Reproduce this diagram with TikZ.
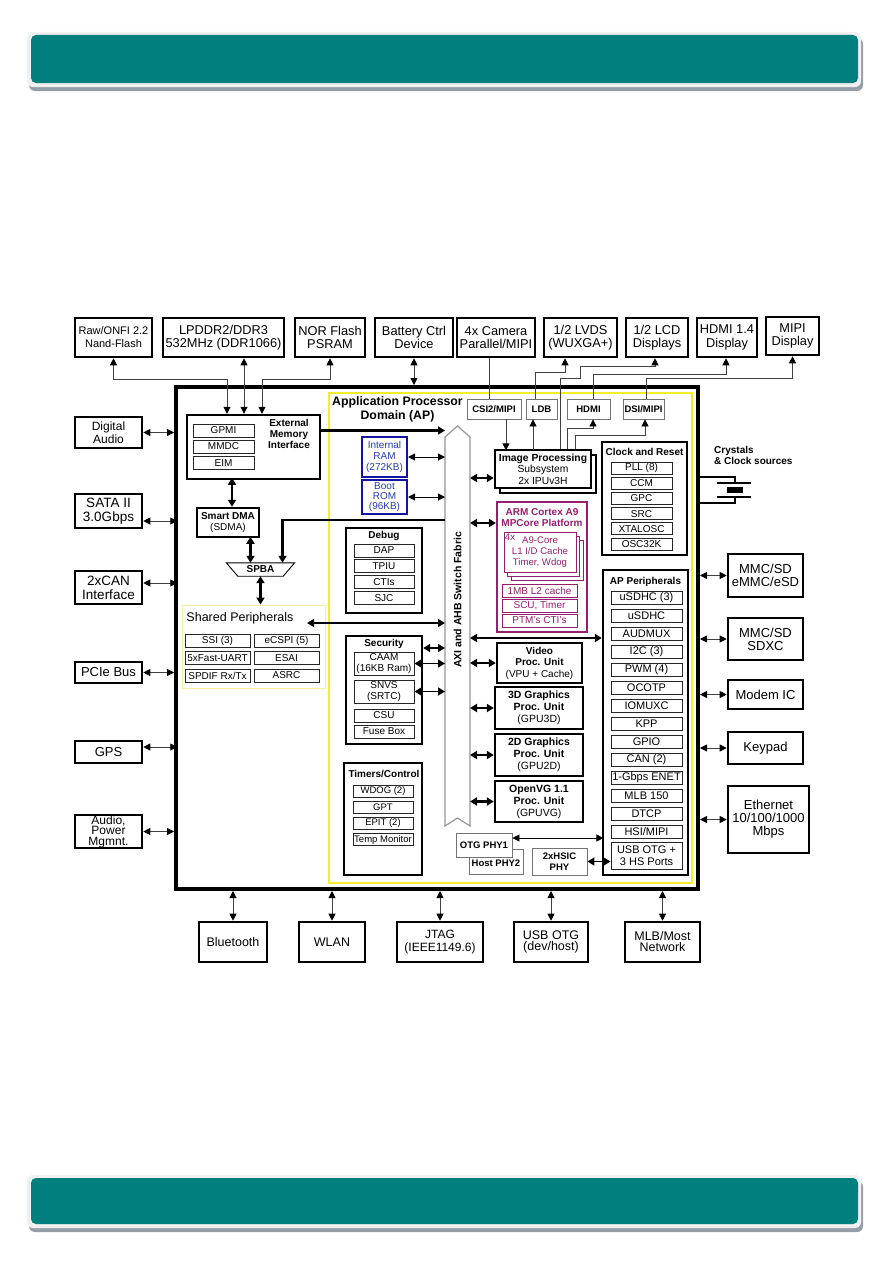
\documentclass[tikz,border=0pt]{standalone}
\usepackage{fontspec}
\setmainfont{Liberation Sans}
\usetikzlibrary{arrows.meta}

\definecolor{banner}{RGB}{0,127,127}
\definecolor{bshadow}{RGB}{150,158,168}
\definecolor{apyel}{RGB}{242,238,40}
\definecolor{shyel}{RGB}{245,238,160}
\definecolor{ramblue}{RGB}{20,20,160}
\definecolor{ramtxt}{RGB}{40,60,170}
\definecolor{armmag}{RGB}{150,30,110}
\definecolor{fabgray}{RGB}{150,150,150}

\tikzset{
  ext/.style={draw, line width=2.6pt, fill=white, align=center, inner sep=0pt,
    font=\fontsize{12.8}{13.5}\selectfont},
  grp/.style={draw, line width=2.4pt, fill=white, align=center, inner sep=0pt,
    font=\fontsize{10.5}{12}\selectfont},
  item/.style={draw=black!85, line width=0.9pt, fill=white, inner sep=0pt,
    align=center, font=\fontsize{10}{11}\selectfont},
  phy/.style={draw=black!55, line width=0.8pt, fill=white, inner sep=0pt,
    align=center, font=\bfseries\fontsize{9.5}{10.5}\selectfont},
  ttl/.style={inner sep=0pt, align=center, font=\bfseries\fontsize{10}{11}\selectfont},
  dbl/.style={black!75, line width=0.8pt,
    {Triangle[length=7pt,width=7pt,color=black]}-{Triangle[length=7pt,width=7pt,color=black]}},
  arr/.style={black!75, line width=0.8pt, -{Triangle[length=7pt,width=7pt,color=black]}},
  bigdbl/.style={line width=2.4pt,
    {Triangle[length=7pt,width=8pt]}-{Triangle[length=7pt,width=8pt]}},
  bigarr/.style={line width=2.4pt, -{Triangle[length=7pt,width=8pt]}},
}

\begin{document}
\begin{tikzpicture}[x=1pt,y=-1pt]
  \useasboundingbox (0,0) rectangle (893,1263);
  % banners
  \fill[bshadow, rounded corners=6pt] (29,38) rectangle (863,91);
  \fill[white!94!black, rounded corners=6pt] (27,32) rectangle (861,87);
  \fill[banner, rounded corners=5pt] (31,35) rectangle (858,83);
  \fill[bshadow, rounded corners=6pt] (29,1181) rectangle (863,1232);
  \fill[white!94!black, rounded corners=6pt] (27,1175) rectangle (861,1228);
  \fill[banner, rounded corners=5pt] (31,1178) rectangle (858,1224);

  % chip and AP domain
  \node[draw, line width=4pt, minimum width=522pt, minimum height=502pt, inner sep=0pt] (soc) at (437,638) {};
  \node[draw=apyel, line width=1.6pt, minimum width=363pt, minimum height=490pt, inner sep=0pt] (ap) at (510.5,638) {};
  \node[ttl, font=\bfseries\fontsize{12.3}{14.5}\selectfont] (aptl) at (397.5,409.5) {Application Processor\\Domain (AP)};

  % top row
  \node[ext, minimum width=77pt, minimum height=39pt, font=\fontsize{11}{13}\selectfont] (raw) at (113.5,337.5) {Raw/ONFI 2.2\\Nand-Flash};
  \node[ext, minimum width=121pt, minimum height=39pt] (lpddr) at (223.5,337.5) {LPDDR2/DDR3\\532MHz (DDR1066)};
  \node[ext, minimum width=70pt, minimum height=39pt] (nor) at (330,337.5) {NOR Flash\\PSRAM};
  \node[ext, minimum width=78pt, minimum height=39pt] (batt) at (414,337.5) {Battery Ctrl\\Device};
  \node[ext, minimum width=78pt, minimum height=39pt] (cam) at (496,337.5) {4x Camera\\Parallel/MIPI};
  \node[ext, minimum width=73pt, minimum height=39pt] (lvds) at (580.5,337.5) {1/2 LVDS\\(WUXGA+)};
  \node[ext, minimum width=62pt, minimum height=39pt] (lcd) at (657,337.5) {1/2 LCD\\Displays};
  \node[ext, minimum width=60pt, minimum height=39pt] (hdmi) at (727,337.5) {HDMI 1.4\\Display};
  \node[ext, minimum width=53pt, minimum height=38pt] (mipi) at (792.5,336) {MIPI\\Display};

  % left column
  \node[ext, minimum width=67pt, minimum height=31pt, font=\fontsize{12}{12.5}\selectfont] (dig) at (108.5,432.5) {Digital\\Audio};
  \node[ext, minimum width=67pt, minimum height=34pt, font=\fontsize{13.5}{14}\selectfont] (sata) at (108.5,511) {SATA II\\3.0Gbps};
  \node[ext, minimum width=67pt, minimum height=33pt, font=\fontsize{13.5}{14}\selectfont] (can) at (108.5,587.5) {2xCAN\\Interface};
  \node[ext, minimum width=67pt, minimum height=21pt, font=\fontsize{13}{14}\selectfont] (pcie) at (108.5,672.5) {PCIe Bus};
  \node[ext, minimum width=67pt, minimum height=22pt, font=\fontsize{13}{14}\selectfont] (gps) at (108.5,752) {GPS};
  \node[ext, minimum width=67pt, minimum height=33pt, font=\fontsize{12}{10.5}\selectfont] (pwr) at (108.5,831.5) {Audio,\\Power\\Mgmnt.};

  % right column
  \node[ext, minimum width=75pt, minimum height=43pt, font=\fontsize{13}{13}\selectfont] (mmc1) at (765.5,575.5) {MMC/SD\\eMMC/eSD};
  \node[ext, minimum width=75pt, minimum height=42pt, font=\fontsize{13}{13}\selectfont] (mmc2) at (765.5,639) {MMC/SD\\SDXC};
  \node[ext, minimum width=75pt, minimum height=29pt, font=\fontsize{13}{13}\selectfont] (modem) at (765.5,694.5) {Modem IC};
  \node[ext, minimum width=75pt, minimum height=32pt, font=\fontsize{13}{13}\selectfont] (keypad) at (765.5,748) {Keypad};
  \node[ext, minimum width=81pt, minimum height=67pt, font=\fontsize{13}{13}\selectfont] (eth) at (768.5,819.5) {Ethernet\\10/100/1000\\Mbps};
  \node[ttl, anchor=north west, align=left] (xtal) at (714,446) {Crystals\\\& Clock sources};

  % bottom row
  \node[ext, minimum width=68pt, minimum height=40pt, font=\fontsize{12.5}{13}\selectfont] (bt) at (233,942) {Bluetooth};
  \node[ext, minimum width=66pt, minimum height=40pt, font=\fontsize{12.5}{13}\selectfont] (wlan) at (332,942) {WLAN};
  \node[ext, minimum width=86pt, minimum height=40pt, font=\fontsize{12}{13}\selectfont] (jtag) at (440,942) {JTAG\\(IEEE1149.6)};
  \node[ext, minimum width=74pt, minimum height=40pt, font=\fontsize{12.5}{11}\selectfont] (usb) at (551,942) {USB OTG\\(dev/host)};
  \node[ext, minimum width=75pt, minimum height=40pt, font=\fontsize{12.5}{11}\selectfont] (mlb) at (662.5,942) {MLB/Most\\Network};

  % external memory, DMA, SPBA
  \node[grp, minimum width=133pt, minimum height=64pt] (emi) at (253.5,447) {};
  \node[item, minimum width=61pt, minimum height=13pt] (gpmi) at (223.5,430.5) {GPMI};
  \node[item, minimum width=61pt, minimum height=13pt] (mmdc) at (223.5,446.5) {MMDC};
  \node[item, minimum width=61pt, minimum height=13pt] (eim) at (223.5,463) {EIM};
  \node[ttl] (emitl) at (289,434) {External\\Memory\\Interface};
  \node[grp, minimum width=62pt, minimum height=29pt, font=\fontsize{10}{11.5}\selectfont] (sdma) at (228,522.5) {\textbf{Smart DMA}\\(SDMA)};
  \node[ttl, minimum width=45pt, minimum height=13pt] (spba) at (260.5,569.5) {SPBA};
  \draw[line width=0.9pt] (spba.south west) -- ([xshift=-11.5pt]spba.north west)
    -- ([xshift=11.5pt]spba.north east) -- (spba.south east) -- cycle;

  % shared peripherals
  \node[draw=shyel, line width=1pt, minimum width=143pt, minimum height=83pt, inner sep=0pt] (shp) at (253.5,646.5) {};
  \node[inner sep=0pt, font=\fontsize{12.5}{13}\selectfont] (shtl) at (240,618) {Shared Peripherals};
  \node[item, minimum width=65pt, minimum height=13pt] (ssi) at (217.5,640.5) {SSI (3)};
  \node[item, minimum width=65pt, minimum height=13pt] (ecspi) at (286.5,640.5) {eCSPI (5)};
  \node[item, minimum width=65pt, minimum height=13pt] (uart) at (217.5,658) {5xFast-UART};
  \node[item, minimum width=65pt, minimum height=13pt] (esai) at (286.5,658) {ESAI};
  \node[item, minimum width=65pt, minimum height=13pt] (spdif) at (217.5,675.5) {SPDIF Rx/Tx};
  \node[item, minimum width=65pt, minimum height=13pt] (asrc) at (286.5,675.5) {ASRC};

  % memories
  \node[draw=ramblue, line width=2pt, fill=white, minimum width=45pt, minimum height=40pt, inner sep=0pt,
    align=center, text=ramtxt, font=\fontsize{10}{11}\selectfont] (ram) at (384.5,457) {Internal\\RAM\\(272KB)};
  \node[draw=ramblue, line width=2pt, fill=white, minimum width=45pt, minimum height=34pt, inner sep=0pt,
    align=center, text=ramtxt, font=\fontsize{10}{10}\selectfont] (rom) at (384.5,497) {Boot\\ROM\\(96KB)};

  % debug, security, timers
  \node[grp, minimum width=76pt, minimum height=85pt] (dbg) at (384,570.5) {};
  \node[ttl] (dbgtl) at (384,535.5) {Debug};
  \foreach \lbl [count=\i] in {DAP,TPIU,CTIs,SJC}
    \node[item, minimum width=60pt, minimum height=13pt] (dbg\i) at (384,{550.5+(\i-1)*15.9}) {\lbl};
  \node[grp, minimum width=76pt, minimum height=108pt] (sec) at (384,690) {};
  \node[ttl] (sectl) at (384,643.5) {Security};
  \node[item, minimum width=60pt, minimum height=23pt] (caam) at (384,663.5) {CAAM\\(16KB Ram)};
  \node[item, minimum width=60pt, minimum height=23pt] (snvs) at (384,691.5) {SNVS\\(SRTC)};
  \node[item, minimum width=60pt, minimum height=13pt] (csu) at (384,715.5) {CSU};
  \node[item, minimum width=60pt, minimum height=13pt] (fuse) at (384,731.5) {Fuse Box};
  \node[grp, minimum width=78pt, minimum height=112pt] (tmr) at (383,819) {};
  \node[ttl] (tmrtl) at (384,773.5) {Timers/Control};
  \foreach \lbl [count=\i] in {WDOG (2),GPT,EPIT (2),Temp Monitor}
    \node[item, font=\fontsize{9.5}{11}\selectfont, minimum width=60pt, minimum height=12pt] (tmr\i) at (383,{791+(\i-1)*16.2}) {\lbl};

  % switch fabric
  \node[minimum width=25pt, minimum height=389pt, inner sep=0pt, outer sep=0pt] (fab) at (457.5,631.5) {};
  \filldraw[fill=white, draw=fabgray, line width=1.2pt] (fab.south west) -- (fab.north west) -- ++(12.5,-11)
    -- (fab.north east) -- (fab.south east) -- ++(-12.5,-8) -- cycle;
  \node[ttl, rotate=90, font=\bfseries\fontsize{10.5}{12}\selectfont] (fabtl) at (457.5,600) {AXI and AHB Switch Fabric};

  % display interfaces
  \node[phy, minimum width=54pt, minimum height=20pt] (csi) at (494,409) {CSI2/MIPI};
  \node[phy, minimum width=31pt, minimum height=20pt] (ldb) at (541.5,409) {LDB};
  \node[phy, minimum width=43pt, minimum height=20pt] (hdmiif) at (588.5,409) {HDMI};
  \node[phy, minimum width=41pt, minimum height=20pt] (dsi) at (643.5,409) {DSI/MIPI};

  % image processing
  \node[grp, line width=2pt, minimum width=96pt, minimum height=38pt] (ipub) at (548,474) {};
  \node[grp, minimum width=96pt, minimum height=38pt, font=\fontsize{10.3}{11.5}\selectfont] (ipu) at (543,469) {\textbf{Image Processing}\\Subsystem\\2x IPUv3H};

  % ARM platform
  \node[draw=armmag, line width=2.2pt, minimum width=90pt, minimum height=130pt, inner sep=0pt] (arm) at (542,567) {};
  \node[ttl, text=armmag] (armtl) at (542,518) {ARM Cortex A9\\MPCore Platform};
  \node[draw=armmag, line width=0.9pt, fill=white, minimum width=72pt, minimum height=40pt] (core3) at (547,560) {};
  \node[draw=armmag, line width=0.9pt, fill=white, minimum width=72pt, minimum height=40pt] (core2) at (543,556) {};
  \node[draw=armmag, line width=0.9pt, fill=white, minimum width=72pt, minimum height=40pt, inner sep=0pt,
    align=center, text=armmag, font=\fontsize{9.6}{11.3}\selectfont] (core) at (540,552) {A9-Core\\L1 I/D Cache\\Timer, Wdog};
  \node[inner sep=0pt, text=armmag, font=\fontsize{9.6}{11}\selectfont] (n4x) at (510,537) {4x};
  \node[item, draw=armmag, text=armmag, minimum width=75pt, minimum height=13pt] (l2) at (539.5,590.5) {1MB L2 cache};
  \node[item, draw=armmag, text=armmag, minimum width=75pt, minimum height=13pt] (scu) at (539.5,605.5) {SCU, Timer};
  \node[item, draw=armmag, text=armmag, minimum width=75pt, minimum height=13pt] (ptm) at (539.5,620.5) {PTM's CTI's};

  % graphics and video
  \node[grp, minimum width=85pt, minimum height=40pt, font=\fontsize{10}{11.5}\selectfont] (vpu) at (539.5,663) {\textbf{Video}\\\textbf{Proc. Unit}\\(VPU + Cache)};
  \node[grp, minimum width=88pt, minimum height=42pt] (gpu3d) at (539,708) {\textbf{3D Graphics}\\\textbf{Proc. Unit}\\(GPU3D)};
  \node[grp, minimum width=88pt, minimum height=42pt] (gpu2d) at (539,755) {\textbf{2D Graphics}\\\textbf{Proc. Unit}\\(GPU2D)};
  \node[grp, minimum width=88pt, minimum height=41pt] (gpuvg) at (539,801.5) {\textbf{OpenVG 1.1}\\\textbf{Proc. Unit}\\(GPUVG)};

  % PHYs
  \node[phy, minimum width=54pt, minimum height=25pt] (host) at (496,861.5) {\mbox{}\\Host PHY2};
  \node[phy, minimum width=56pt, minimum height=24pt] (otg) at (484,845) {OTG PHY1};
  \node[phy, minimum width=55pt, minimum height=27pt] (hsic) at (559.5,861.5) {2xHSIC\\PHY};

  % clock and reset
  \node[grp, minimum width=85pt, minimum height=113pt] (clk) at (644.5,498.5) {};
  \node[ttl] (clktl) at (644.5,451.5) {Clock and Reset};
  \foreach \lbl [count=\i] in {PLL (8),CCM,GPC,SRC,XTALOSC,OSC32K}
    \node[item, minimum width=61pt, minimum height=12pt] (clk\i) at (641.5,{468+(\i-1)*15.2}) {\lbl};

  % AP peripherals
  \node[grp, minimum width=85pt, minimum height=305pt] (app) at (645.5,722.5) {};
  \node[ttl] (apptl) at (645.5,582) {AP Peripherals};
  \foreach \lbl [count=\i] in {uSDHC (3),uSDHC,AUDMUX,I2C (3),PWM (4),OCOTP,IOMUXC,KPP,GPIO,CAN (2),1-Gbps ENET,MLB 150,DTCP,HSI/MIPI}
    \node[item, font=\fontsize{11}{12}\selectfont, minimum width=71pt, minimum height=13pt] (ap\i) at (646.5,{597.5+(\i-1)*18}) {\lbl};
  \node[item, font=\fontsize{11}{12}\selectfont, minimum width=71pt, minimum height=27pt] (usbp) at (646.5,855.5) {USB OTG +\\3 HS Ports};

  % crystal
  \draw[line width=1.6pt] (soc.east |- 0,477) -- (735,477) -- (735,483);
  \draw[line width=1.6pt] (717,483) -- (751,483);
  \fill (727,487) rectangle (743,493);
  \draw[line width=1.6pt] (717,497) -- (751,497);
  \draw[line width=1.6pt] (735,497) -- (735,503) -- (soc.east |- 0,503);

  % top connections
  \draw[dbl] (raw.south) -- ++(0,21) -| ([xshift=-26.5pt]emi.north);
  \draw[dbl] ([xshift=-9.5pt]emi.north) -- ([xshift=-9.5pt]emi.north |- lpddr.south);
  \draw[dbl] (nor.south) -- ++(0,21) -| ([xshift=8.5pt]emi.north);
  \draw[dbl] (batt.south) -- (batt.south |- soc.north);
  \draw[black!75, line width=0.8pt] ([xshift=-7pt]cam.south) -- ([xshift=-7pt]cam.south |- csi.north);
  \draw[arr] ([xshift=-6.5pt]ldb.north) -- ++(0,-26) -| ([xshift=-15.5pt]lvds.south);
  \draw[arr] ([xshift=17pt]ipu.north) -- ++(0,-70) -- ++(20,0) -- ++(0,-12) -| ([xshift=-2pt]lcd.south);
  \draw[arr] ([xshift=4.5pt]hdmiif.north) -- ++(0,-24) -| ([xshift=-1pt]hdmi.south);
  \draw[arr] ([xshift=2.5pt]dsi.north) -- ++(0,-20) -| (mipi.south);
  \draw[arr] ([xshift=12pt]csi.south) -- ++(0,31);
  \draw[arr] ([xshift=-8.5pt]ldb.south) ++(0,31) -- ++(0,-31);
  \draw[arr] ([xshift=24pt]ipu.north) -- ++(0,-20) -| ([xshift=4.5pt]hdmiif.south);
  \draw[arr] ([xshift=32pt]ipu.north) -- ++(0,-13) -| ([xshift=1.5pt]dsi.south);

  % side connections
  \draw[dbl] (dig.east) -- (dig.east -| soc.west);
  \draw[dbl] ([yshift=-10pt]sata.east) -- ++(34,0);
  \draw[dbl] ([yshift=4.5pt]can.east) -- ++(34,0);
  \draw[dbl] (pcie.east) -- (pcie.east -| soc.west);
  \draw[dbl] ([yshift=5pt]gps.east) -- ++(34,0);
  \draw[dbl] (pwr.east) -- (pwr.east -| soc.west);
  \draw[dbl] (mmc1.west -| soc.east) -- (mmc1.west);
  \draw[dbl] (mmc2.west -| soc.east) -- (mmc2.west);
  \draw[dbl] (modem.west -| soc.east) -- (modem.west);
  \draw[dbl] (keypad.west -| soc.east) -- (keypad.west);
  \draw[dbl] (eth.west -| soc.east) -- (eth.west);
  \draw[dbl] (bt.north) -- (bt.north |- soc.south);
  \draw[dbl] (wlan.north) -- (wlan.north |- soc.south);
  \draw[dbl] (jtag.north) -- (jtag.north |- soc.south);
  \draw[dbl] (usb.north) -- (usb.north |- soc.south);
  \draw[dbl] (mlb.north) -- (mlb.north |- soc.south);

  % internal buses
  \draw[bigarr] (gpmi -| emi.east) -- (gpmi -| fab.west);
  \draw[bigdbl] ([xshift=4pt]sdma.north) -- ++(0,-29);
  \draw[bigdbl] ([xshift=-10pt]spba.north) -- ++(0,-26);
  \draw[bigarr] (fab.west |- 0,520) -| ([xshift=22pt]spba.north);
  \draw[bigdbl] (spba.south) -- (spba.south |- shp.north);
  \draw[bigdbl] (fab.west |- 0,623) -- ++(-138,0);
  \draw[dbl, black, line width=1pt] (ram.east) -- (ram.east -| fab.west);
  \draw[dbl, black, line width=1pt] (rom.east) -- (rom.east -| fab.west);
  \draw[bigdbl, line width=1.6pt] (sec.east |- 0,648) -- (fab.west |- 0,648);
  \draw[bigdbl, line width=1.6pt] (caam.east) -- (caam.east -| fab.west);
  \draw[bigdbl, line width=1.6pt] (snvs.east) -- (snvs.east -| fab.west);
  \draw[bigdbl] ([yshift=-9pt]ipu.west -| fab.east) -- ([yshift=-9pt]ipu.west);
  \draw[bigdbl] (fab.east |- 0,523) -- (arm.west |- 0,523);
  \draw[bigdbl] (fab.east |- 0,638) -- (app.west |- 0,638);
  \draw[bigdbl] (vpu.west -| fab.east) -- (vpu.west);
  \draw[bigdbl] (gpu3d.west -| fab.east) -- (gpu3d.west);
  \draw[bigdbl] (gpu2d.west -| fab.east) -- (gpu2d.west);
  \draw[bigdbl] (gpuvg.west -| fab.east) -- (gpuvg.west);
  \draw[dbl, black] ([yshift=7pt]otg.east) -- ++(91,0);
  \draw[bigdbl, line width=1.6pt] (hsic.east) -- (hsic.east -| usbp.west);
\end{tikzpicture}
\end{document}
